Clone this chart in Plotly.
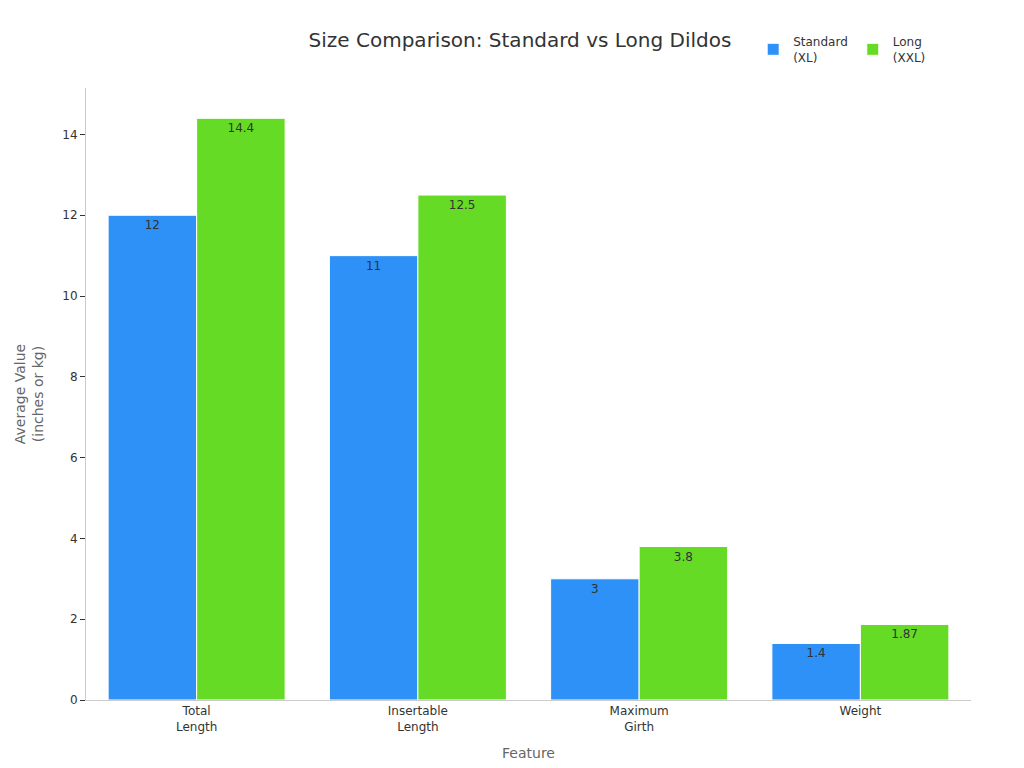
import plotly.graph_objects as go

# chart data
features = ["Total<br>Length", "Insertable<br>Length", "Maximum<br>Girth", "Weight"]
standard_xl = [12, 11, 3, 1.4]
long_xxl = [14.4, 12.5, 3.8, 1.87]

fig = go.Figure()
fig.add_trace(go.Bar(
    x=features, y=standard_xl, name="Standard<br>(XL)",
    marker=dict(color="#2d91f8", line=dict(color="white", width=1)),
    text=[str(v) for v in standard_xl], textposition="inside", insidetextanchor="end",
    textfont=dict(color="#333333", size=12),
))
fig.add_trace(go.Bar(
    x=features, y=long_xxl, name="Long<br>(XXL)",
    marker=dict(color="#66db26", line=dict(color="white", width=1)),
    text=[str(v) for v in long_xxl], textposition="inside", insidetextanchor="end",
    textfont=dict(color="#333333", size=12),
))

fig.update_layout(
    width=1024, height=768,
    font=dict(family="DejaVu Sans", size=12, color="#333333"),
    title=dict(text="Size Comparison: Standard vs Long Dildos", x=0.5, y=0.968,
               xanchor="center", font=dict(size=20, color="#333333")),
    plot_bgcolor="white", paper_bgcolor="white",
    margin=dict(l=78, r=61, t=80, b=76, autoexpand=False),
    barmode="group", bargap=0.2, bargroupgap=0,
    legend=dict(orientation="h", x=0.955, xanchor="right", yref="container",
                y=0.975, yanchor="top", font=dict(size=12)),
    xaxis=dict(title=dict(text="Feature", font=dict(size=14, color="#666666")),
               showline=True, linecolor="#cccccc", ticks="", showgrid=False),
    yaxis=dict(title=dict(text="Average Value<br>(inches or kg)", font=dict(size=14, color="#666666")),
               range=[0, 15.15], dtick=2, showline=True, linecolor="#cccccc",
               ticks="outside", tickcolor="#333333", ticklen=5, showgrid=False, zeroline=False),
    uniformtext=dict(mode="show", minsize=12),
)

fig.write_html("out.html")
